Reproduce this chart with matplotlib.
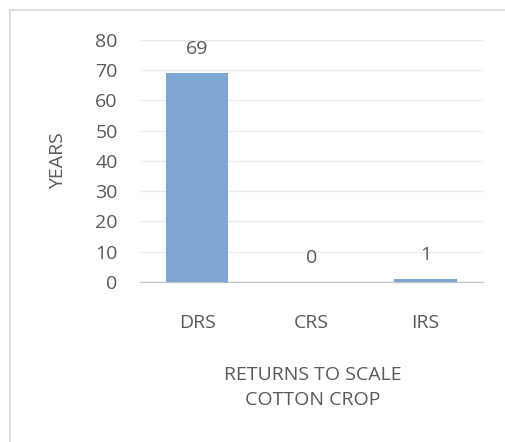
import matplotlib.pyplot as plt
from matplotlib.lines import Line2D

categories = ["DRS", "CRS", "IRS"]
years = [69, 0, 1]
y_ticks = [0, 10, 20, 30, 40, 50, 60, 70, 80]

plt.rcParams['font.family'] = ['Open Sans', 'DejaVu Sans']
txt = '#595959'
fs = 14

fig = plt.figure(figsize=(5.05, 4.42), dpi=100)
ax = fig.add_axes([0.277, 0.362, 0.679, 0.548])

bars = ax.bar(categories, years, width=0.55, color='#7EA6D3', zorder=3)
for b, v in zip(bars, years):
    ax.text(b.get_x() + b.get_width() / 2, v + 8, str(v), ha='center', va='center',
            fontsize=fs, color=txt)

ax.set_ylim(0, 80)
ax.set_xlim(-0.5, 2.5)
ax.set_yticks(y_ticks)
ax.grid(axis='y', color='#EBEBEB', linewidth=1, zorder=0)
for s in ['top', 'right', 'left']:
    ax.spines[s].set_visible(False)
ax.spines['bottom'].set_color('#BFBFBF')
ax.tick_params(axis='both', length=0, labelsize=fs, colors=txt)
ax.tick_params(axis='y', pad=16)
ax.tick_params(axis='x', pad=23)

ax.set_ylabel('YEARS', fontsize=fs, color=txt, va='center')
ax.yaxis.set_label_coords(-0.239, 0.5)
ax.set_xlabel('RETURNS TO SCALE\nCOTTON CROP', fontsize=fs, color=txt, va='center',
              linespacing=1.45)
ax.xaxis.set_label_coords(0.505, -0.436)

# outer chart frame
fig.add_artist(Line2D([10 / 505, 1], [1 - 10 / 442] * 2, color='#D9D9D9', lw=1.2))
fig.add_artist(Line2D([10 / 505] * 2, [0, 1 - 10 / 442], color='#D9D9D9', lw=1.2))

fig.savefig('out.png', dpi=100)
